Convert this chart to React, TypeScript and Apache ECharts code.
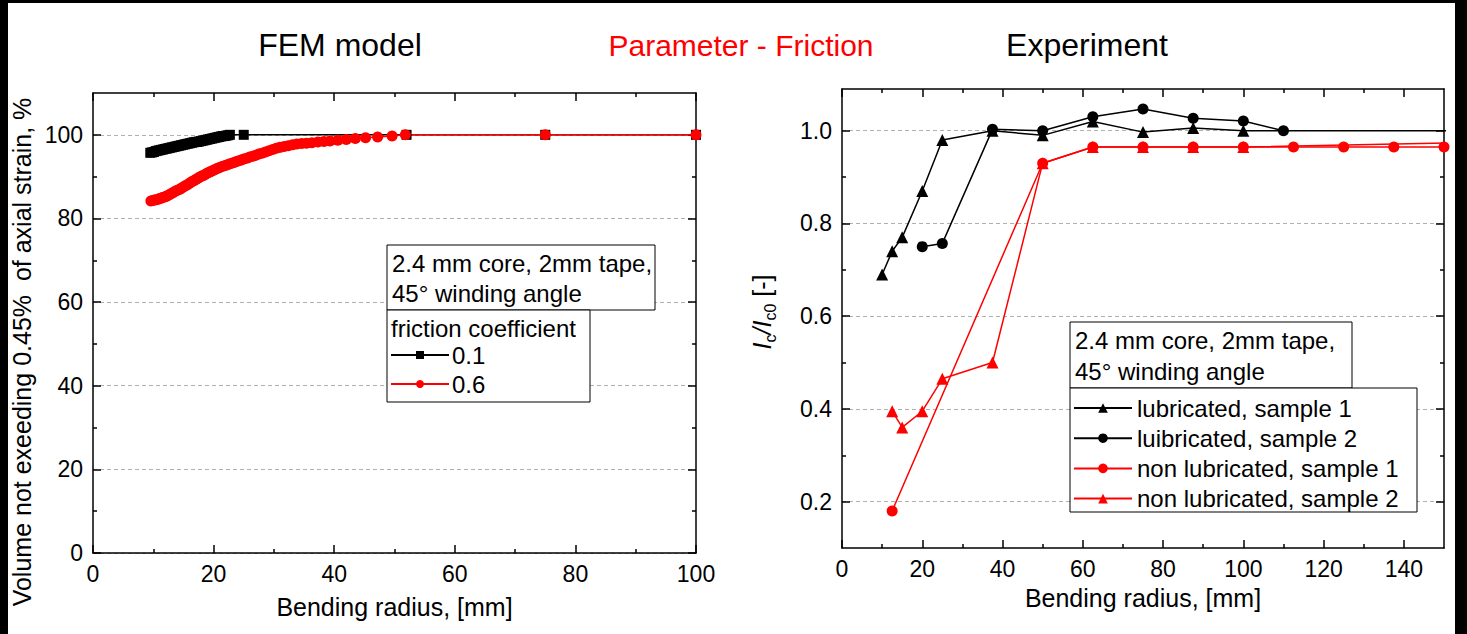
import React, { useEffect, useRef } from "react";
import * as echarts from "echarts";

// ---------- data ----------
// FEM model, friction coefficient 0.1
const femLowX = [9.5, 9.8, 10.1, 10.4, 10.7, 11.0, 11.3, 11.6, 11.9, 12.2, 12.5, 12.8, 13.1, 13.4, 13.7, 14.0, 14.3, 14.6, 14.9, 15.2, 15.5, 15.8, 16.1, 16.4, 16.7, 17.0, 17.3, 17.6, 17.9, 18.2, 18.5, 18.8, 19.1, 19.4, 19.7, 20.0, 20.3, 20.6, 20.9, 21.2, 21.5, 21.8, 22.1, 22.4, 22.7, 25, 52, 75, 100];
const femLowY = [95.7, 95.8, 95.9, 96.1, 96.2, 96.3, 96.4, 96.5, 96.6, 96.7, 96.8, 96.9, 97.0, 97.1, 97.2, 97.3, 97.4, 97.5, 97.6, 97.7, 97.8, 97.9, 98.0, 98.1, 98.2, 98.3, 98.3, 98.4, 98.5, 98.6, 98.7, 98.8, 98.9, 99.0, 99.1, 99.2, 99.3, 99.4, 99.5, 99.6, 99.7, 99.7, 99.8, 99.9, 100.0, 100, 100, 100, 100];
// FEM model, friction coefficient 0.6
const femHighX = [9.6, 9.9, 10.2, 10.5, 10.8, 11.1, 11.4, 11.7, 12.0, 12.3, 12.6, 12.9, 13.2, 13.5, 13.8, 14.1, 14.4, 14.7, 15.0, 15.3, 15.6, 15.9, 16.2, 16.5, 16.8, 17.1, 17.4, 17.7, 18.0, 18.3, 18.6, 18.9, 19.2, 19.5, 19.8, 20.1, 20.4, 20.7, 21.0, 21.4, 21.8, 22.2, 22.6, 23.0, 23.4, 23.8, 24.2, 24.6, 25.0, 25.5, 26.0, 26.5, 27.0, 27.5, 28.0, 28.6, 29.2, 29.8, 30.4, 31.0, 31.7, 32.4, 33.1, 33.8, 34.6, 35.4, 36.3, 37.3, 38.3, 39.3, 40.6, 42.0, 43.5, 45.2, 47.2, 49.6, 51.8, 75, 100];
const femHighY = [84.2, 84.3, 84.4, 84.5, 84.6, 84.8, 84.9, 85.1, 85.2, 85.4, 85.6, 85.9, 86.1, 86.4, 86.6, 86.8, 87.0, 87.3, 87.5, 87.8, 88.0, 88.3, 88.6, 88.9, 89.1, 89.4, 89.6, 89.9, 90.1, 90.3, 90.5, 90.8, 91.0, 91.2, 91.4, 91.6, 91.8, 92.0, 92.2, 92.4, 92.6, 92.8, 93.0, 93.2, 93.4, 93.6, 93.8, 94.0, 94.2, 94.4, 94.7, 94.9, 95.1, 95.4, 95.6, 95.9, 96.2, 96.5, 96.8, 97.0, 97.2, 97.4, 97.6, 97.8, 97.9, 98.0, 98.1, 98.3, 98.4, 98.5, 98.7, 98.9, 99.1, 99.3, 99.5, 99.7, 100.0, 100, 100];

// Experiment
const lub1X = [10, 12.5, 15, 20, 25, 37.5, 50, 62.5, 75, 87.5, 100, 160];
const lub1Y = [0.69, 0.74, 0.77, 0.87, 0.98, 1.0, 0.99, 1.02, 0.997, 1.006, 1.0, 1.0];
const lub2X = [20, 25, 37.5, 50, 62.5, 75, 87.5, 100, 110];
const lub2Y = [0.75, 0.757, 1.003, 1.0, 1.03, 1.047, 1.027, 1.021, 1.0];
const non1X = [12.5, 50, 62.5, 75, 87.5, 100, 112.5, 125, 137.5, 150];
const non1Y = [0.18, 0.93, 0.965, 0.965, 0.965, 0.965, 0.965, 0.965, 0.965, 0.965];
const non2X = [12.5, 15, 20, 25, 37.5, 50, 62.5, 75, 87.5, 100, 160];
const non2Y = [0.395, 0.36, 0.395, 0.465, 0.5, 0.93, 0.965, 0.965, 0.965, 0.965, 0.975];

// ticks
const femXMajor = [0, 20, 40, 60, 80, 100];
const femXMinor = [10, 30, 50, 70, 90];
const femYMajor = [0, 20, 40, 60, 80, 100];
const femYMinor = [10, 30, 50, 70, 90];
const expXMajor = [0, 20, 40, 60, 80, 100, 120, 140];
const expXMinor = [10, 30, 50, 70, 90, 110, 130];
const expYMajor = [0.2, 0.4, 0.6, 0.8, 1.0];
const expYMinor = [0.3, 0.5, 0.7, 0.9];

const femLegend = ["0.1", "0.6"];
const expLegend = ["lubricated, sample 1", "luibricated, sample 2", "non lubricated, sample 1", "non lubricated, sample 2"];

// ---------- layout ----------
const OX = 8;
const OY = 3;
const FONT = "'Liberation Sans', Arial, Helvetica, sans-serif";
const px = (x: number) => x - OX;
const py = (y: number) => y - OY;

const zip = (xs: number[], ys: number[]) => xs.map((x, i) => [x, ys[i]]);

const lineSt = { color: "#000", width: 1.5 };

function makeAxes(
  dim: "x" | "y",
  gridIndex: number,
  min: number,
  max: number,
  major: number[],
  minor: number[],
  fmt: (v: number) => string,
  name: string,
  nameGap: number,
  split: boolean
) {
  const first = dim === "x" ? "bottom" : "left";
  const second = dim === "x" ? "top" : "right";
  const base = { type: "value", gridIndex, min, max, splitLine: { show: false } };
  return [
    {
      ...base,
      position: first,
      axisLine: { show: true, onZero: false, lineStyle: lineSt },
      axisTick: { show: true, inside: true, length: 8, customValues: major, lineStyle: lineSt },
      axisLabel: {
        show: true,
        customValues: major,
        color: "#000",
        fontSize: 23,
        fontFamily: FONT,
        margin: dim === "x" ? 9 : 10,
        formatter: fmt,
      },
      splitLine: split
        ? { show: true, lineStyle: { color: "#b0b0b0", type: [4, 3], width: 1 } }
        : { show: false },
      name,
      nameLocation: "middle",
      nameGap,
      nameTextStyle: { color: "#000", fontSize: 25, fontFamily: FONT },
    },
    {
      ...base,
      position: first,
      axisLine: { show: false, onZero: false },
      axisTick: { show: true, inside: true, length: 4, customValues: minor, lineStyle: lineSt },
      axisLabel: { show: false },
    },
    {
      ...base,
      position: second,
      axisLine: { show: true, onZero: false, lineStyle: lineSt },
      axisTick: { show: true, inside: true, length: 8, customValues: major, lineStyle: lineSt },
      axisLabel: { show: false },
    },
    {
      ...base,
      position: second,
      axisLine: { show: false, onZero: false },
      axisTick: { show: true, inside: true, length: 4, customValues: minor, lineStyle: lineSt },
      axisLabel: { show: false },
    },
  ];
}

function lineSeries(name: string, data: number[][], color: string, symbol: string, size: number, xi: number, yi: number) {
  return {
    type: "line",
    name,
    data,
    xAxisIndex: xi,
    yAxisIndex: yi,
    symbol,
    symbolSize: size,
    showAllSymbol: true,
    itemStyle: { color },
    lineStyle: { color, width: 1.5 },
    z: 3,
  };
}

function textEl(text: string, x: number, y: number, size: number, color = "#000", align = "left", extra: any = {}) {
  return {
    type: "text",
    x: px(x),
    y: py(y),
    z: 20,
    style: { text, fill: color, fontSize: size, fontFamily: FONT, align, verticalAlign: "middle" },
    ...extra,
  };
}

function boxEl(x: number, y: number, w: number, h: number) {
  return {
    type: "rect",
    z: 3,
    shape: { x: px(x), y: py(y), width: w, height: h },
    style: { fill: "#fff", stroke: "#000", lineWidth: 1 },
  };
}

export default function App() {
  const ref = useRef<HTMLDivElement>(null);

  useEffect(() => {
    if (!ref.current) return;
    const chart = echarts.init(ref.current, null, { renderer: "svg" });

    const femX = makeAxes("x", 0, 0, 100, femXMajor, femXMinor, (v) => String(v), "Bending radius, [mm]", 41, false);
    const femY = makeAxes("y", 0, 0, 110, femYMajor, femYMinor, (v) => String(v), "", 0, true);
    const expX = makeAxes("x", 1, 0, 150, expXMajor, expXMinor, (v) => String(v), "Bending radius, [mm]", 37, false);
    const expY = makeAxes("y", 1, 0.1, 1.09, expYMajor, expYMinor, (v) => Number(v).toFixed(1), "", 0, true);

    const option: any = {
      animation: false,
      backgroundColor: "#fff",
      textStyle: { fontFamily: FONT },
      grid: [
        { left: px(93), top: py(93), width: 603, height: 460 },
        { left: px(842), top: py(89), width: 602, height: 459 },
      ],
      xAxis: [...femX, ...expX],
      yAxis: [...femY, ...expY],
      legend: [
        {
          data: femLegend,
          orient: "vertical",
          left: px(390),
          top: py(343),
          padding: 0,
          itemWidth: 58,
          itemHeight: 10,
          itemGap: 5,
          selectedMode: false,
          textStyle: { color: "#000", fontSize: 24, fontFamily: FONT, lineHeight: 22, padding: [0, 0, 0, -2] },
          z: 10,
        },
        {
          data: expLegend,
          orient: "vertical",
          left: px(1073),
          top: py(396),
          padding: 0,
          itemWidth: 58,
          itemHeight: 12,
          itemGap: 6.2,
          selectedMode: false,
          textStyle: { color: "#000", fontSize: 24, fontFamily: FONT, lineHeight: 22, padding: [0, 0, 0, 0] },
          z: 10,
        },
      ],
      series: [
        lineSeries("0.1", zip(femLowX, femLowY), "#000", "rect", 10, 0, 0),
        lineSeries("0.6", zip(femHighX, femHighY), "#ff0000", "circle", 11, 0, 0),
        lineSeries("lubricated, sample 1", zip(lub1X, lub1Y), "#000", "triangle", 12, 4, 4),
        lineSeries("luibricated, sample 2", zip(lub2X, lub2Y), "#000", "circle", 11, 4, 4),
        lineSeries("non lubricated, sample 1", zip(non1X, non1Y), "#ff0000", "circle", 11, 4, 4),
        lineSeries("non lubricated, sample 2", zip(non2X, non2Y), "#ff0000", "triangle", 12, 4, 4),
      ],
      graphic: {
        elements: [
          textEl("FEM model", 340, 45, 32, "#000", "center"),
          textEl("Parameter - Friction", 741, 45, 30, "#ff0000", "center"),
          textEl("Experiment", 1087, 45, 32, "#000", "center"),
          textEl("Volume not exeeding 0.45%  of axial strain, %", 22, 352, 25, "#000", "center", { rotation: Math.PI / 2 }),
          {
            type: "text",
            x: px(762),
            y: py(312),
            rotation: Math.PI / 2,
            z: 20,
            style: {
              text: "{i|I}{s|c}{i|/I}{s|c0}{n| [-]}",
              fontFamily: FONT,
              fill: "#000",
              align: "center",
              verticalAlign: "middle",
              rich: {
                i: { fontSize: 25, fontStyle: "italic", fontFamily: FONT, lineHeight: 26, verticalAlign: "top" },
                n: { fontSize: 25, fontFamily: FONT, lineHeight: 26, verticalAlign: "top" },
                s: { fontSize: 16, fontFamily: FONT, lineHeight: 16, verticalAlign: "top", padding: [13, 0, 0, 0] },
              },
            },
          },
          boxEl(387, 245, 268, 65),
          textEl("2.4 mm core, 2mm tape,", 392, 263, 24),
          textEl("45° winding angle", 392, 293, 24),
          boxEl(387, 310, 203, 92),
          textEl("friction coefficient", 391, 328, 24),
          boxEl(1070, 322, 282, 66),
          textEl("2.4 mm core, 2mm tape,", 1075, 340, 24),
          textEl("45° winding angle", 1075, 371, 24),
          boxEl(1070, 388, 347, 124),
        ],
      },
    };

    chart.setOption(option);
    return () => chart.dispose();
  }, []);

  return (
    <div style={{ position: "fixed", left: 0, top: 0, width: 1467, height: 634, background: "#000" }}>
      <div
        ref={ref}
        style={{ position: "absolute", left: OX, top: OY, width: 1467 - OX - 12, height: 634 - OY, background: "#fff" }}
      />
    </div>
  );
}
